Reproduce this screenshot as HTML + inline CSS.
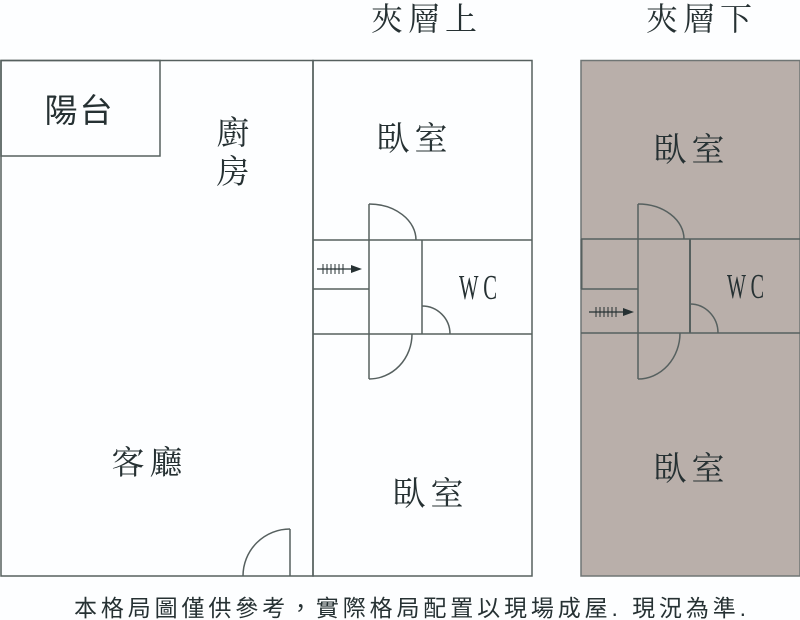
<!DOCTYPE html>
<html>
<head>
<meta charset="utf-8">
<style>
html,body{margin:0;padding:0;background:#fdfeff;}
svg{display:block;}
.ln{stroke:#56605f;stroke-width:1.5;fill:none;}
.t{font-family:"Liberation Serif","Noto Serif CJK SC",serif;fill:#263133;text-anchor:middle;}
.s{font-family:"Liberation Sans","Noto Sans CJK TC",sans-serif;fill:#263133;text-anchor:middle;}
</style>
</head>
<body>
<svg width="800" height="620" viewBox="0 0 800 620" xmlns="http://www.w3.org/2000/svg">
  <rect x="0" y="0" width="800" height="620" fill="#fdfeff"/>

  <!-- Left building -->
  <rect class="ln" x="1" y="60.5" width="312" height="515.5"/>
  <rect class="ln" x="1" y="60.5" width="159" height="95.5"/>
  <!-- left door -->
  <line class="ln" x1="290" y1="529" x2="290" y2="576"/>
  <path class="ln" d="M290,529 A47,47 0 0 0 243,576"/>

  <!-- Middle building (upper mezzanine) -->
  <rect class="ln" x="313" y="60.5" width="219" height="515.5"/>
  <line class="ln" x1="313" y1="240" x2="532" y2="240"/>
  <line class="ln" x1="313" y1="334" x2="532" y2="334"/>
  <line class="ln" x1="369" y1="204" x2="369" y2="379"/>
  <line class="ln" x1="422" y1="240" x2="422" y2="334"/>
  <line class="ln" x1="313" y1="289" x2="369" y2="289"/>
  <path class="ln" d="M369,204 A47,36 0 0 1 416,240"/>
  <path class="ln" d="M369,379 A43,45 0 0 0 412,334"/>
  <path class="ln" d="M422,306 A28,28 0 0 1 450,334"/>
  <!-- stair arrow -->
  <line stroke="#263133" stroke-width="1.3" x1="317" y1="269" x2="354" y2="269"/>
  <g stroke="#263133" stroke-width="1">
    <line x1="323" y1="264" x2="323" y2="274"/>
    <line x1="327" y1="264" x2="327" y2="274"/>
    <line x1="331" y1="264" x2="331" y2="274"/>
    <line x1="335" y1="264" x2="335" y2="274"/>
    <line x1="339" y1="264" x2="339" y2="274"/>
    <line x1="343" y1="264" x2="343" y2="274"/>
  </g>
  <polygon points="351,265 362,269 351,273" fill="#263133"/>

  <!-- Right building (lower mezzanine) -->
  <rect x="581" y="60.5" width="219" height="515.5" fill="#b9afaa" stroke="#6f7574" stroke-width="1.5"/>
  <line class="ln" x1="581" y1="239" x2="800" y2="239"/>
  <line class="ln" x1="581" y1="333" x2="800" y2="333"/>
  <line class="ln" x1="638" y1="204" x2="638" y2="379"/>
  <line class="ln" x1="690" y1="239" x2="690" y2="333" style="stroke-width:2"/>
  <line class="ln" x1="581" y1="289" x2="638" y2="289"/>
  <line class="ln" x1="581.5" y1="239" x2="581.5" y2="289" style="stroke-width:2"/>
  <path class="ln" d="M638,204 A46,35 0 0 1 684,239"/>
  <path class="ln" d="M638,379 A42,46 0 0 0 680,333"/>
  <path class="ln" d="M690,304 A28,29 0 0 1 718,333"/>
  <!-- stair arrow -->
  <line stroke="#263133" stroke-width="1.3" x1="589" y1="312" x2="625" y2="312"/>
  <g stroke="#263133" stroke-width="1">
    <line x1="596" y1="307" x2="596" y2="317"/>
    <line x1="600" y1="307" x2="600" y2="317"/>
    <line x1="604" y1="307" x2="604" y2="317"/>
    <line x1="608" y1="307" x2="608" y2="317"/>
    <line x1="612" y1="307" x2="612" y2="317"/>
    <line x1="616" y1="307" x2="616" y2="317"/>
  </g>
  <polygon points="623,308 634,312 623,316" fill="#263133"/>

  <!-- Titles -->
  <text class="t" font-size="32" x="387" y="30">夾</text>
  <text class="t" font-size="32" x="424" y="30">層</text>
  <text class="t" font-size="32" x="461" y="30">上</text>
  <text class="t" font-size="32" x="662" y="30">夾</text>
  <text class="t" font-size="32" x="699" y="30">層</text>
  <text class="t" font-size="32" x="736" y="30">下</text>

  <!-- Left labels -->
  <text class="s" font-size="33" x="61" y="122">陽</text>
  <text class="s" font-size="33" x="96" y="122">台</text>
  <text class="t" font-size="33" x="233" y="144">廚</text>
  <text class="t" font-size="33" x="233" y="183">房</text>
  <text class="t" font-size="33" x="128" y="474">客</text>
  <text class="t" font-size="33" x="166" y="474">廳</text>

  <!-- Middle labels -->
  <text class="t" font-size="33" x="393" y="150">臥</text>
  <text class="t" font-size="33" x="431" y="150">室</text>
  <text class="t" font-size="33" x="409" y="505">臥</text>
  <text class="t" font-size="33" x="447" y="505">室</text>
  <text font-family="Liberation Serif, serif" fill="#263133" font-size="35" x="459" y="299" textLength="38" lengthAdjust="spacingAndGlyphs">W C</text>

  <!-- Right labels -->
  <text class="t" font-size="33" x="670" y="161">臥</text>
  <text class="t" font-size="33" x="708" y="161">室</text>
  <text class="t" font-size="33" x="670" y="480">臥</text>
  <text class="t" font-size="33" x="708" y="480">室</text>
  <text font-family="Liberation Serif, serif" fill="#263133" font-size="35" x="727" y="298" textLength="37" lengthAdjust="spacingAndGlyphs">W C</text>

  <!-- Footer -->
  <text font-family="Liberation Sans, Noto Sans CJK TC, sans-serif" fill="#263133" font-size="23" x="74" y="616" textLength="672" lengthAdjust="spacing">本格局圖僅供參考，實際格局配置以現場成屋. 現況為準.</text>
</svg>
</body>
</html>
